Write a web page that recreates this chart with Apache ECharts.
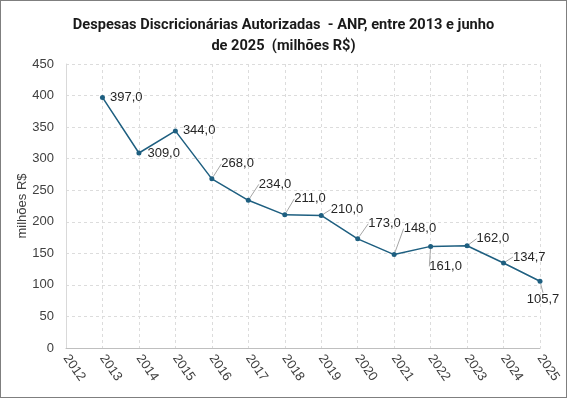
<!DOCTYPE html>
<html>
<head>
<meta charset="utf-8">
<script src="https://cdn.jsdelivr.net/npm/echarts@6/dist/echarts.min.js"></script>
<style>
  html, body { margin: 0; padding: 0; background: #fff; }
  #chart { width: 567px; height: 398px; box-sizing: border-box; border: 1px solid #7f7f7f; }
</style>
</head>
<body>
<div id="chart"></div>
<script>
// eixo x (anos) e valores em milhões R$
var categories = ['2012', '2013', '2014', '2015', '2016', '2017', '2018', '2019', '2020', '2021', '2022', '2023', '2024', '2025'];
var years = ['2013', '2014', '2015', '2016', '2017', '2018', '2019', '2020', '2021', '2022', '2023', '2024', '2025'];
var values = [397.0, 309.0, 344.0, 268.0, 234.0, 211.0, 210.0, 173.0, 148.0, 161.0, 162.0, 134.7, 105.7];
var yTicks = [0, 50, 100, 150, 200, 250, 300, 350, 400, 450];

// deslocamento dos rótulos (como no Excel, alguns foram arrastados)
var labelPos = ['right', 'right', 'right', 'right', 'right', 'right', 'right', 'right', 'right', 'bottom', 'right', 'right', 'bottom'];
var labelDx = [0, 1, 0, 2, 3, 2, 2, 3, 2, 15, 2, 2, 3];
var labelDy = [0, 0, 0, -15, -16, -16, -6, -15, -26, 6, -7, -6, 4];
var showLine = [false, false, false, true, true, true, true, true, true, true, true, true, true];

var fmt = function (v) { return v.toFixed(1).replace('.', ','); };

var chart = echarts.init(document.getElementById('chart'));

var seriesData = years.map(function (y, i) {
  return {
    value: [y, values[i]],
    label: { position: labelPos[i] },
    labelLine: { show: showLine[i] }
  };
});

var gridLine = { color: '#dcdcdc', type: [3, 3], width: 1 };

chart.setOption({
  animation: false,
  textStyle: { fontFamily: 'Liberation Sans' },
  title: {
    text: 'Despesas Discricionárias Autorizadas  - ANP, entre 2013 e junho\nde 2025  (milhões R$)',
    left: 'center',
    top: 9,
    textStyle: { fontSize: 14.6, fontWeight: 'bold', color: '#1a1a1a', lineHeight: 21, fontFamily: 'Roboto' }
  },
  grid: { left: 65, right: 26, top: 63, bottom: 49, containLabel: false },
  xAxis: {
    type: 'category',
    data: categories,
    boundaryGap: false,
    axisLine: { show: true, lineStyle: { color: '#bfbfbf', width: 1 } },
    axisTick: { show: false },
    axisLabel: { rotate: -55, color: '#404040', fontSize: 13, margin: 8 },
    splitLine: { show: true, lineStyle: gridLine }
  },
  yAxis: {
    type: 'value',
    min: yTicks[0],
    max: yTicks[yTicks.length - 1],
    interval: 50,
    name: 'milhões R$',
    nameLocation: 'middle',
    nameGap: 37,
    nameMoveOverlap: false,
    nameTextStyle: { color: '#404040', fontSize: 13 },
    axisLine: { show: true, lineStyle: { color: '#d9d9d9' } },
    axisTick: { show: false },
    axisLabel: { color: '#404040', fontSize: 13, margin: 12 },
    splitLine: { show: true, lineStyle: gridLine }
  },
  series: [{
    type: 'line',
    data: seriesData,
    symbol: 'circle',
    symbolSize: 5,
    lineStyle: { color: '#1e5f80', width: 1.5 },
    itemStyle: { color: '#1e5f80' },
    label: {
      show: true,
      distance: 5,
      color: '#262626',
      fontSize: 13,
      formatter: function (p) { return fmt(p.value[1]); }
    },
    labelLine: { show: true, lineStyle: { color: '#a6a6a6', width: 1 } },
    labelLayout: function (p) {
      return { dx: labelDx[p.dataIndex], dy: labelDy[p.dataIndex] };
    }
  }]
});
</script>
</body>
</html>
